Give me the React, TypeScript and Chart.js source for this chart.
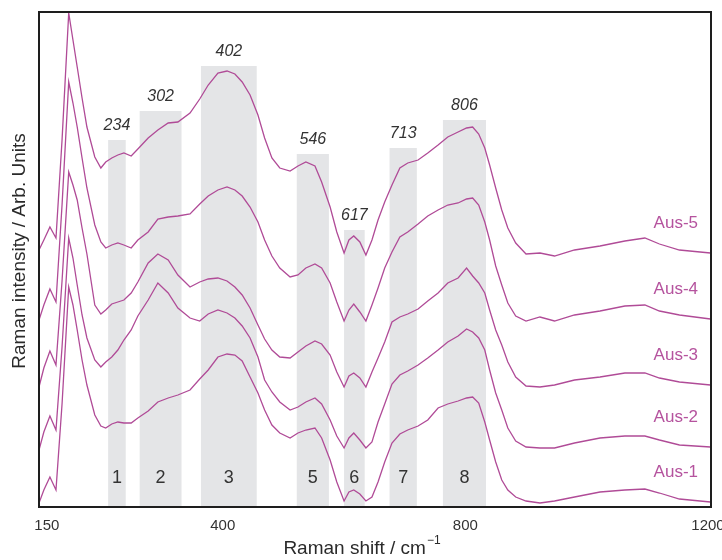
import { useEffect, useRef } from 'react';
import { Chart, registerables } from 'chart.js';

Chart.register(...registerables);

// Raman shift (cm^-1) sampling positions
const ramanShift = [97, 105, 115, 125, 135, 146, 153, 160, 168, 176, 189, 199, 207, 217, 227, 237, 249, 260, 277, 293, 310, 326, 346, 362, 376, 392, 407, 420, 432, 445, 458, 469, 481, 494, 511, 524, 537, 552, 563, 577, 588, 600, 608, 616, 626, 636, 646, 656, 667, 679, 692, 705, 722, 738, 755, 771, 788, 802, 812, 822, 832, 840, 850, 860, 870, 883, 900, 923, 947, 980, 1022, 1063, 1096, 1120, 1153, 1204];

// Stacked intensities (arb. units, offset included)
const aus1 = [4, 17, 30, 17, 103, 220, 202, 177, 147, 122, 92, 81, 79, 83, 85, 84, 84, 89, 96, 105, 109, 112, 117, 128, 137, 150, 153, 152, 146, 130, 114, 97, 82, 74, 69, 74, 77, 79, 69, 47, 25, 6, 15, 17, 13, 6, 10, 25, 45, 64, 73, 77, 81, 87, 99, 103, 106, 109, 110, 104, 85, 67, 45, 27, 17, 10, 6, 4, 6, 10, 15, 17, 18, 14, 8, 5];
const aus2 = [57, 75, 91, 77, 160, 269, 249, 222, 192, 169, 147, 140, 145, 150, 157, 167, 177, 191, 207, 224, 214, 199, 189, 186, 193, 197, 194, 189, 181, 169, 150, 127, 115, 105, 97, 100, 105, 109, 103, 87, 71, 59, 69, 74, 67, 59, 65, 85, 103, 123, 132, 136, 142, 149, 157, 165, 171, 178, 175, 169, 157, 137, 114, 97, 79, 66, 60, 59, 59, 64, 69, 71, 71, 67, 62, 60];
const aus3 = [120, 139, 156, 142, 226, 335, 322, 307, 279, 253, 202, 193, 197, 203, 205, 207, 214, 225, 244, 253, 247, 232, 220, 225, 228, 229, 226, 220, 212, 199, 182, 168, 157, 150, 149, 155, 161, 166, 163, 152, 135, 120, 131, 134, 129, 120, 135, 149, 165, 185, 190, 193, 198, 206, 214, 224, 229, 239, 231, 224, 214, 197, 177, 162, 145, 130, 121, 120, 122, 127, 130, 134, 134, 129, 125, 122];
const aus4 = [187, 202, 218, 205, 302, 425, 404, 380, 349, 319, 282, 265, 259, 262, 264, 262, 259, 267, 275, 288, 290, 291, 293, 303, 311, 317, 320, 317, 311, 300, 285, 267, 251, 239, 230, 232, 239, 243, 239, 224, 205, 186, 197, 203, 195, 186, 202, 219, 239, 255, 270, 275, 283, 291, 297, 302, 304, 308, 309, 302, 285, 267, 241, 222, 204, 191, 186, 190, 186, 192, 196, 201, 202, 196, 192, 188];
const aus5 = [257, 267, 280, 269, 367, 494, 467, 440, 409, 380, 350, 339, 345, 349, 352, 354, 351, 358, 369, 377, 384, 385, 394, 408, 422, 434, 436, 433, 425, 412, 392, 369, 349, 339, 336, 341, 345, 341, 325, 300, 275, 254, 267, 271, 265, 252, 267, 287, 305, 322, 339, 344, 347, 354, 362, 370, 375, 379, 380, 373, 359, 342, 319, 297, 279, 264, 253, 254, 251, 257, 261, 266, 269, 263, 257, 254];

const seriesNames = ['Aus-1', 'Aus-2', 'Aus-3', 'Aus-4', 'Aus-5'];
const seriesValues = [aus1, aus2, aus3, aus4, aus5];

// Assigned band regions
const bandStart = [211, 263, 364, 522, 600, 675, 763];
const bandEnd = [240, 332, 456, 575, 634, 720, 834];
const bandTop = [367, 396, 441, 353, 277, 359, 387];
const peakLabels = ['234', '302', '402', '546', '617', '713', '806'];
const bandNumbers = ['1', '2', '3', '5', '6', '7', '8'];

const xTickValues = [110, 400, 800, 1200];
const xTickLabels = ['150', '400', '800', '1200'];

const FONT = "'Liberation Sans', Arial, Helvetica, sans-serif";
const LINE = '#b04b97';
const LABEL = '#b5539e';
const TEXT = '#333333';

const bandsPlugin = {
  id: 'bands',
  beforeDatasetsDraw(chart: any) {
    const { ctx, chartArea, scales } = chart;
    const xs = scales.x, ys = scales.y;
    ctx.save();
    ctx.fillStyle = '#e4e5e7';
    for (let i = 0; i < bandStart.length; i++) {
      const x0 = xs.getPixelForValue(bandStart[i]);
      const x1 = xs.getPixelForValue(bandEnd[i]);
      const yt = ys.getPixelForValue(bandTop[i]);
      ctx.fillRect(x0, yt, x1 - x0, chartArea.bottom - yt);
    }
    ctx.restore();
  },
  afterDatasetsDraw(chart: any) {
    const { ctx, chartArea, scales } = chart;
    const xs = scales.x, ys = scales.y;
    ctx.save();
    ctx.fillStyle = TEXT;
    ctx.textAlign = 'center';
    ctx.textBaseline = 'middle';
    for (let i = 0; i < bandStart.length; i++) {
      const cx = (xs.getPixelForValue(bandStart[i]) + xs.getPixelForValue(bandEnd[i])) / 2;
      const yt = ys.getPixelForValue(bandTop[i]);
      ctx.font = `italic 16px ${FONT}`;
      ctx.fillText(peakLabels[i], cx, yt - 14);
      ctx.font = `18px ${FONT}`;
      ctx.fillText(bandNumbers[i], cx, chartArea.bottom - 29);
    }
    // series labels
    ctx.fillStyle = LABEL;
    ctx.textAlign = 'right';
    ctx.font = `17px ${FONT}`;
    chart.data.datasets.forEach((ds: any, i: number) => {
      const meta = chart.getDatasetMeta(i);
      const last = meta.data[meta.data.length - 1];
      ctx.fillText(ds.label, chartArea.right - 13, last.y - 30);
    });
    ctx.restore();
  },
  afterDraw(chart: any) {
    const { ctx, chartArea } = chart;
    ctx.save();
    ctx.strokeStyle = '#1e1e1e';
    ctx.lineWidth = 2;
    ctx.strokeRect(chartArea.left, chartArea.top, chartArea.right - chartArea.left, chartArea.bottom - chartArea.top);
    // axis titles
    ctx.fillStyle = '#2a2a2a';
    ctx.textBaseline = 'middle';
    ctx.font = `19px ${FONT}`;
    const main = 'Raman shift / cm';
    const w1 = ctx.measureText(main).width;
    ctx.font = `12px ${FONT}`;
    const sup = '\u22121';
    const w2 = ctx.measureText(sup).width;
    const cx = 362;
    const startX = cx - (w1 + w2 + 1) / 2;
    ctx.textAlign = 'left';
    ctx.font = `19px ${FONT}`;
    ctx.fillText(main, startX, 549);
    ctx.font = `12px ${FONT}`;
    ctx.fillText(sup, startX + w1 + 1, 541);
    ctx.save();
    ctx.translate(20, 251);
    ctx.rotate(-Math.PI / 2);
    ctx.textAlign = 'center';
    ctx.font = `19px ${FONT}`;
    ctx.fillText('Raman intensity / Arb. Units', 0, 0);
    ctx.restore();
    ctx.restore();
  },
};

export default function App() {
  const ref = useRef<HTMLCanvasElement>(null);
  useEffect(() => {
    if (!ref.current) return;
    const chart = new Chart(ref.current, {
      type: 'line',
      data: {
        datasets: seriesValues.map((vals, i) => ({
          label: seriesNames[i],
          data: ramanShift.map((x, j) => ({ x, y: vals[j] })),
          borderColor: LINE,
          borderWidth: 1.3,
          pointRadius: 0,
          tension: 0,
          fill: false,
        })),
      },
      options: {
        responsive: false,
        animation: false,
        devicePixelRatio: 1,
        layout: { padding: { left: 39, top: 12, right: 11, bottom: 0 } },
        plugins: { legend: { display: false }, tooltip: { enabled: false } },
        scales: {
          x: {
            type: 'linear',
            min: 97,
            max: 1205,
            grid: { display: false, drawTicks: false },
            border: { display: false },
            afterBuildTicks: (scale: any) => {
              scale.ticks = xTickValues.map((v) => ({ value: v }));
            },
            afterFit: (scale: any) => {
              scale.height = 53;
              scale.paddingLeft = 0;
              scale.paddingRight = 0;
            },
            ticks: {
              autoSkip: false,
              maxRotation: 0,
              padding: 10,
              color: TEXT,
              font: { family: FONT, size: 15 },
              callback: (_v: any, i: number) => xTickLabels[i],
            },
          },
          y: {
            display: false,
            min: 0,
            max: 495,
          },
        },
      },
      plugins: [bandsPlugin],
    } as any);
    return () => chart.destroy();
  }, []);
  return (
    <div style={{ position: 'fixed', left: 0, top: 0, width: 722, height: 560, background: '#fff' }}>
      <canvas ref={ref} width={722} height={560} style={{ display: 'block', width: 722, height: 560 }} />
    </div>
  );
}
